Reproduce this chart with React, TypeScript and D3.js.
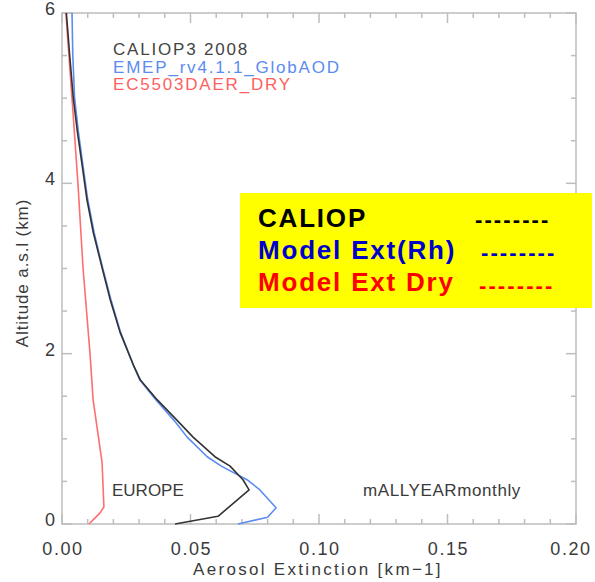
import { useEffect, useRef } from 'react';
import * as d3 from 'd3';

// altitude (km) / extinction (km-1)
const caliopAlt = [0, 0.09, 0.4, 0.52, 0.68, 0.79, 1.02, 1.22, 1.46, 1.69, 1.85, 2.25, 2.64, 3.02, 3.42, 3.81, 4.2, 4.6, 5.0, 5.5, 6.0];
const caliopExt = [0.044, 0.0607, 0.0728, 0.0704, 0.0654, 0.0595, 0.051, 0.0447, 0.037, 0.0305, 0.028, 0.0226, 0.0187, 0.0155, 0.0122, 0.0097, 0.0079, 0.006, 0.0044, 0.003, 0.0017];

const modelAlt = [0, 0.08, 0.19, 0.4, 0.52, 0.68, 0.79, 1.02, 1.22, 1.46, 1.69, 1.85, 2.25, 2.64, 3.02, 3.42, 3.81, 4.2, 4.6, 5.0, 5.5, 6.0];
const modelExt = [0.0685, 0.08, 0.0833, 0.077, 0.072, 0.062, 0.0565, 0.0487, 0.0435, 0.0365, 0.0303, 0.028, 0.0228, 0.019, 0.0157, 0.0125, 0.01, 0.0082, 0.0064, 0.0049, 0.0042, 0.0039];

const dryAlt = [0, 0.13, 0.2, 0.72, 1.46, 2.0, 3.0, 4.0, 5.0, 6.0];
const dryExt = [0.0105, 0.0148, 0.0163, 0.0156, 0.0121, 0.0109, 0.0082, 0.0062, 0.0039, 0.0015];

const xTicks = [0, 0.05, 0.1, 0.15, 0.2];
const yTicks = [0, 2, 4, 6];

const plotLabels = ['CALIOP3 2008', 'EMEP_rv4.1.1_GlobAOD', 'EC5503DAER_DRY'];
const plotLabelColors = ['#444444', '#5b8cf0', '#ff5f5f'];
const boxLabels = ['CALIOP', 'Model Ext(Rh)', 'Model Ext Dry'];
const boxColors = ['#000000', '#0000cc', '#ff0000'];

export default function App() {
  const ref = useRef<SVGSVGElement>(null);

  useEffect(() => {
    const svg = d3.select(ref.current);
    svg.selectAll('*').remove();

    const left = 62, right = 576, top = 13, bottom = 524;
    const x = d3.scaleLinear().domain([0, 0.2]).range([left, right]);
    const y = d3.scaleLinear().domain([0, 6]).range([bottom, top]);
    const axisCol = '#bdbdbd';
    const textCol = '#3a3a3a';
    const font = '"Liberation Sans", Arial, sans-serif';

    // frame
    svg.append('rect')
      .attr('x', left).attr('y', top)
      .attr('width', right - left).attr('height', bottom - top)
      .attr('fill', 'none').attr('stroke', axisCol).attr('stroke-width', 1.5);

    // ticks, inward on all four sides
    const g = svg.append('g').attr('stroke', axisCol).attr('stroke-width', 1.5);
    d3.range(0, 21).forEach(i => {
      const v = i * 0.01;
      const len = i % 5 === 0 ? 10 : 5;
      g.append('line').attr('x1', x(v)).attr('x2', x(v)).attr('y1', bottom).attr('y2', bottom - len);
      g.append('line').attr('x1', x(v)).attr('x2', x(v)).attr('y1', top).attr('y2', top + len);
    });
    d3.range(0, 13).forEach(i => {
      const v = i * 0.5;
      const len = i % 4 === 0 ? 10 : 5;
      g.append('line').attr('x1', left).attr('x2', left + len).attr('y1', y(v)).attr('y2', y(v));
      g.append('line').attr('x1', right).attr('x2', right - len).attr('y1', y(v)).attr('y2', y(v));
    });

    // tick labels
    svg.selectAll('.xl').data(xTicks).enter().append('text')
      .attr('x', d => Math.min(x(d) + 1, 571)).attr('y', 555)
      .attr('text-anchor', 'middle')
      .attr('font-family', font).attr('font-size', 18).attr('fill', textCol)
      .attr('letter-spacing', 1.6)
      .text(d => d3.format('.2f')(d));
    svg.selectAll('.yl').data(yTicks).enter().append('text')
      .attr('x', 55).attr('y', d => y(d) + 2)
      .attr('text-anchor', 'end')
      .attr('font-family', font).attr('font-size', 18).attr('fill', textCol)
      .text(d => d);

    // axis titles
    svg.append('text')
      .attr('x', 318).attr('y', 575)
      .attr('text-anchor', 'middle')
      .attr('font-family', font).attr('font-size', 17).attr('fill', textCol)
      .attr('letter-spacing', 2.3)
      .text('Aerosol Extinction [km\u22121]');
    svg.append('text')
      .attr('transform', 'translate(28,' + 273 + ') rotate(-90)')
      .attr('text-anchor', 'middle')
      .attr('font-family', font).attr('font-size', 17).attr('fill', textCol)
      .attr('letter-spacing', 0.9)
      .text('Altitude a.s.l (km)');

    // curves
    const line = d3.line<[number, number]>()
      .x(d => x(d[0]))
      .y(d => y(d[1]));
    const series: [number[], number[], string][] = [
      [dryExt, dryAlt, '#ff6e6e'],
      [modelExt, modelAlt, '#5b8cf0'],
      [caliopExt, caliopAlt, '#333333'],
    ];
    series.forEach(([ext, alt, col]) => {
      svg.append('path')
        .datum(ext.map((e, i) => [e, alt[i]] as [number, number]))
        .attr('fill', 'none').attr('stroke', col).attr('stroke-width', 1.6)
        .attr('stroke-linejoin', 'round')
        .attr('d', line);
    });

    // in-plot labels
    plotLabels.forEach((t, i) => {
      svg.append('text')
        .attr('x', 113).attr('y', 55 + i * 17.5)
        .attr('font-family', font).attr('font-size', 17).attr('fill', plotLabelColors[i])
        .attr('letter-spacing', 1.8)
        .text(t);
    });
    svg.append('text')
      .attr('x', 112).attr('y', 496)
      .attr('font-family', font).attr('font-size', 17).attr('fill', textCol)
      .text('EUROPE');
    svg.append('text')
      .attr('x', 363).attr('y', 496)
      .attr('font-family', font).attr('font-size', 17).attr('fill', textCol)
      .attr('letter-spacing', 0.6)
      .text('mALLYEARmonthly');

    // yellow legend box
    svg.append('rect')
      .attr('x', 240).attr('y', 193).attr('width', 352).attr('height', 115)
      .attr('fill', '#ffff00');
    const dashX = [475, 481, 479];
    boxLabels.forEach((t, i) => {
      svg.append('text')
        .attr('x', 258).attr('y', 227 + i * 32)
        .attr('font-family', font).attr('font-size', 26).attr('font-weight', 'bold')
        .attr('fill', boxColors[i])
        .attr('letter-spacing', 1.8)
        .text(t);
      svg.append('text')
        .attr('x', dashX[i]).attr('y', 227 + i * 33)
        .attr('font-family', font).attr('font-size', 22).attr('font-weight', 'bold')
        .attr('fill', boxColors[i])
        .attr('letter-spacing', 2.1)
        .text('--------');
    });
  }, []);

  return (
    <div style={{ position: 'absolute', left: 0, top: 0 }}>
      <svg ref={ref} width={595} height={582} style={{ display: 'block', background: '#fff' }} />
    </div>
  );
}
